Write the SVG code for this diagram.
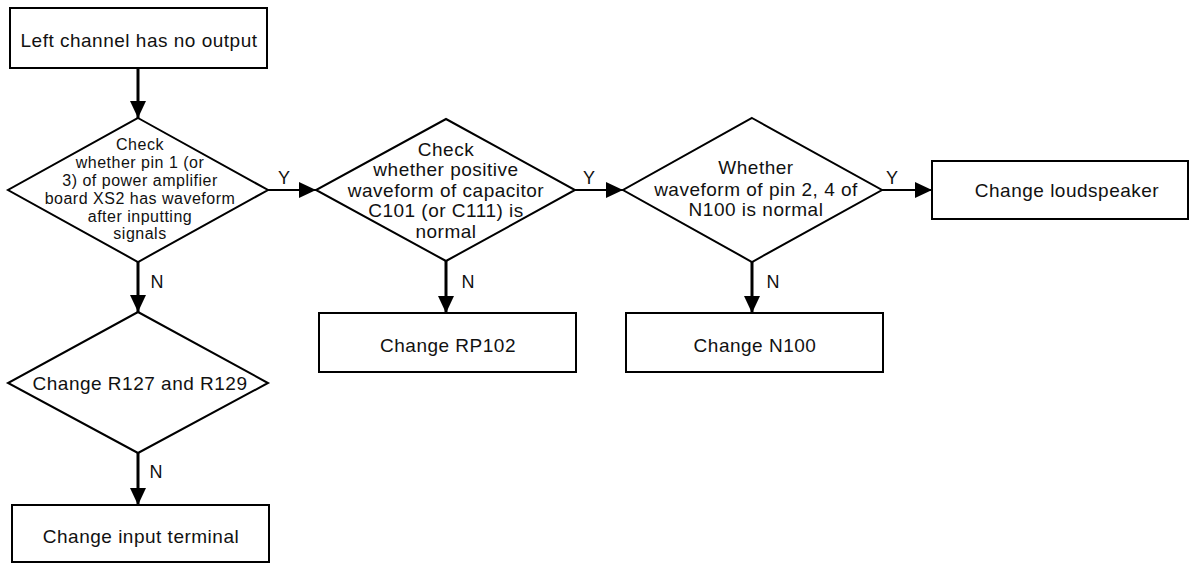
<svg xmlns="http://www.w3.org/2000/svg" width="1190" height="565" viewBox="0 0 1190 565">
  <defs>
    <style>
      .shape { fill: #ffffff; stroke: #000000; stroke-width: 2; }
      .txt { font-family: "Liberation Sans", Arial, sans-serif; font-size: 19px; letter-spacing: 0.5px; fill: #111111; text-anchor: middle; }
      .small { font-size: 16px; }
      .lbl { font-family: "Liberation Sans", Arial, sans-serif; font-size: 18px; fill: #111111; text-anchor: middle; }
      .conn { fill: none; stroke: #000000; stroke-width: 3; marker-end: url(#arrow); }
      .connh { fill: none; stroke: #000000; stroke-width: 2; marker-end: url(#arrow); }
    </style>
    <marker id="arrow" markerUnits="userSpaceOnUse" markerWidth="18" markerHeight="16" refX="17" refY="8" orient="auto">
      <path d="M0,0 L17,8 L0,16 Z" fill="#000000"/>
    </marker>
  </defs>
  <rect width="1190" height="565" fill="#ffffff"/>

  <g id="connectors">
    <line class="conn" x1="138" y1="68" x2="138" y2="118"/>
    <line class="connh" x1="268" y1="190" x2="316" y2="190"/>
    <line class="connh" x1="575" y1="190" x2="623" y2="190"/>
    <line class="connh" x1="882" y1="190" x2="932" y2="190"/>
    <line class="conn" x1="138" y1="262" x2="138" y2="312"/>
    <line class="conn" x1="446" y1="261" x2="446" y2="313"/>
    <line class="conn" x1="752" y1="262" x2="752" y2="313"/>
    <line class="conn" x1="138" y1="453" x2="138" y2="505"/>
    <text class="lbl" x="284" y="184">Y</text>
    <text class="lbl" x="589" y="184">Y</text>
    <text class="lbl" x="892" y="184">Y</text>
    <text class="lbl" x="157" y="288">N</text>
    <text class="lbl" x="468" y="288">N</text>
    <text class="lbl" x="773" y="288">N</text>
    <text class="lbl" x="156" y="478">N</text>
  </g>

  <g id="start">
    <rect class="shape" x="10" y="8" width="257" height="60"/>
    <text class="txt" x="139" y="47">Left channel has no output</text>
  </g>

  <g id="check-pin">
    <polygon class="shape" points="138,118 268,190 138,262 8,190"/>
    <text class="txt small" x="140" y="150">Check</text>
    <text class="txt small" x="140" y="168">whether pin 1 (or</text>
    <text class="txt small" x="140" y="186">3) of power amplifier</text>
    <text class="txt small" x="140" y="204">board XS2 has waveform</text>
    <text class="txt small" x="140" y="222">after inputting</text>
    <text class="txt small" x="140" y="239">signals</text>
  </g>

  <g id="check-capacitor">
    <polygon class="shape" points="446,119 575,190 446,261 316,190"/>
    <text class="txt" x="446" y="156">Check</text>
    <text class="txt" x="446" y="176">whether positive</text>
    <text class="txt" x="446" y="197">waveform of capacitor</text>
    <text class="txt" x="446" y="217">C101 (or C111) is</text>
    <text class="txt" x="446" y="238">normal</text>
  </g>

  <g id="check-n100">
    <polygon class="shape" points="752,118 882,190 752,262 623,190"/>
    <text class="txt" x="756" y="174">Whether</text>
    <text class="txt" x="756" y="196">waveform of pin 2, 4 of</text>
    <text class="txt" x="756" y="216">N100 is normal</text>
  </g>

  <g id="change-loudspeaker">
    <rect class="shape" x="932" y="161" width="256" height="58"/>
    <text class="txt" x="1067" y="197">Change loudspeaker</text>
  </g>

  <g id="change-rp102">
    <rect class="shape" x="319" y="313" width="257" height="59"/>
    <text class="txt" x="448" y="352">Change RP102</text>
  </g>

  <g id="change-n100">
    <rect class="shape" x="626" y="313" width="257" height="59"/>
    <text class="txt" x="755" y="352">Change N100</text>
  </g>

  <g id="change-r127">
    <polygon class="shape" points="138,312 268,383 138,453 8,383"/>
    <text class="txt" x="140" y="390">Change R127 and R129</text>
  </g>

  <g id="change-input">
    <rect class="shape" x="12" y="505" width="257" height="57"/>
    <text class="txt" x="141" y="543">Change input terminal</text>
  </g>
</svg>
